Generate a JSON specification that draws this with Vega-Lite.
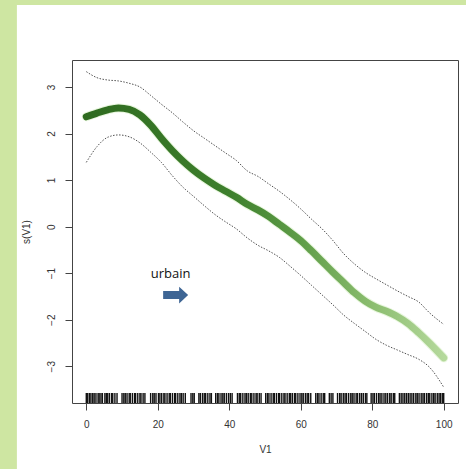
{
  "$schema": "https://vega.github.io/schema/vega-lite/v6.json",
  "width": 386,
  "height": 343,
  "autosize": "none",
  "padding": {"left": 72, "top": 60, "right": 8, "bottom": 66},
  "background": "white",
  "config": {
    "view": {"stroke": "#444", "strokeWidth": 1},
    "axis": {"domain": false, "grid": false, "tickColor": "#444", "tickSize": 7, "labelFont": "Liberation Sans", "labelFontSize": 10, "labelColor": "#333", "titleFont": "Liberation Sans", "titleFontSize": 10, "titleFontWeight": "normal", "titleColor": "#333", "zindex": 1}
  },
  "datasets": {
    "fit": [
      {"V1": 0, "fit": 2.36, "lo": 1.38, "hi": 3.33},
      {"V1": 3, "fit": 2.44, "lo": 1.72, "hi": 3.2},
      {"V1": 6, "fit": 2.51, "lo": 1.92, "hi": 3.15},
      {"V1": 9, "fit": 2.55, "lo": 1.97, "hi": 3.13},
      {"V1": 12, "fit": 2.52, "lo": 1.93, "hi": 3.08},
      {"V1": 15, "fit": 2.4, "lo": 1.8, "hi": 3.0},
      {"V1": 18, "fit": 2.18, "lo": 1.6, "hi": 2.82},
      {"V1": 21, "fit": 1.9, "lo": 1.38, "hi": 2.63},
      {"V1": 24, "fit": 1.64, "lo": 1.1, "hi": 2.45},
      {"V1": 27, "fit": 1.41, "lo": 0.85, "hi": 2.25},
      {"V1": 30, "fit": 1.21, "lo": 0.65, "hi": 2.06},
      {"V1": 33, "fit": 1.04, "lo": 0.45, "hi": 1.9},
      {"V1": 36, "fit": 0.89, "lo": 0.26, "hi": 1.74},
      {"V1": 39, "fit": 0.76, "lo": 0.1, "hi": 1.58},
      {"V1": 42, "fit": 0.63, "lo": -0.05, "hi": 1.42},
      {"V1": 45, "fit": 0.48, "lo": -0.24, "hi": 1.2},
      {"V1": 48, "fit": 0.36, "lo": -0.4, "hi": 1.08},
      {"V1": 51, "fit": 0.22, "lo": -0.52, "hi": 0.92},
      {"V1": 54, "fit": 0.05, "lo": -0.66, "hi": 0.76},
      {"V1": 57, "fit": -0.12, "lo": -0.85, "hi": 0.58},
      {"V1": 60, "fit": -0.3, "lo": -1.05, "hi": 0.38},
      {"V1": 63, "fit": -0.52, "lo": -1.26, "hi": 0.16},
      {"V1": 66, "fit": -0.75, "lo": -1.47, "hi": -0.05},
      {"V1": 69, "fit": -0.98, "lo": -1.68, "hi": -0.3},
      {"V1": 72, "fit": -1.2, "lo": -1.9, "hi": -0.58},
      {"V1": 75, "fit": -1.42, "lo": -2.08, "hi": -0.8},
      {"V1": 78, "fit": -1.6, "lo": -2.25, "hi": -0.98},
      {"V1": 81, "fit": -1.73, "lo": -2.42, "hi": -1.12},
      {"V1": 84, "fit": -1.82, "lo": -2.55, "hi": -1.25},
      {"V1": 87, "fit": -1.93, "lo": -2.65, "hi": -1.38},
      {"V1": 90, "fit": -2.08, "lo": -2.75, "hi": -1.5},
      {"V1": 93, "fit": -2.28, "lo": -2.85, "hi": -1.62},
      {"V1": 96, "fit": -2.5, "lo": -3.02, "hi": -1.85},
      {"V1": 100, "fit": -2.82, "lo": -3.45, "hi": -2.1}
    ],
    "rug": [
      {"V1": 0}, {"V1": 0.4}, {"V1": 0.9}, {"V1": 1.3}, {"V1": 1.8}, {"V1": 2.2}, {"V1": 2.7}, {"V1": 3.3}, {"V1": 3.6}, {"V1": 4.1}, {"V1": 4.5}, {"V1": 5.2}, {"V1": 5.6}, {"V1": 6.0}, {"V1": 6.5}, {"V1": 7.1}, {"V1": 7.4}, {"V1": 8.0}, {"V1": 8.6},
      {"V1": 10.0}, {"V1": 10.5}, {"V1": 10.9}, {"V1": 11.4}, {"V1": 12.0}, {"V1": 12.3}, {"V1": 12.9}, {"V1": 13.5}, {"V1": 13.8}, {"V1": 14.4}, {"V1": 15.0}, {"V1": 15.3}, {"V1": 15.9}, {"V1": 16.4},
      {"V1": 18.0}, {"V1": 18.6}, {"V1": 19.0}, {"V1": 19.5}, {"V1": 20.2}, {"V1": 20.6}, {"V1": 21.1}, {"V1": 21.7}, {"V1": 22.0}, {"V1": 22.6}, {"V1": 23.2}, {"V1": 23.5}, {"V1": 24.1}, {"V1": 24.7}, {"V1": 25.0}, {"V1": 25.6}, {"V1": 26.2}, {"V1": 26.6}, {"V1": 27.1}, {"V1": 27.7},
      {"V1": 29.3}, {"V1": 29.8}, {"V1": 30.2}, {"V1": 31.5}, {"V1": 31.9}, {"V1": 32.5}, {"V1": 33.0}, {"V1": 33.4}, {"V1": 34.0}, {"V1": 34.6}, {"V1": 35.0},
      {"V1": 36.2}, {"V1": 36.7}, {"V1": 37.1}, {"V1": 37.7}, {"V1": 38.2}, {"V1": 38.6}, {"V1": 39.2}, {"V1": 39.8}, {"V1": 40.3}, {"V1": 40.8},
      {"V1": 42.3}, {"V1": 42.8}, {"V1": 43.2}, {"V1": 43.8}, {"V1": 44.4}, {"V1": 44.8}, {"V1": 45.3}, {"V1": 45.9}, {"V1": 46.3}, {"V1": 46.9}, {"V1": 47.5}, {"V1": 47.8}, {"V1": 48.4}, {"V1": 48.9},
      {"V1": 50.2}, {"V1": 50.7}, {"V1": 51.1}, {"V1": 51.7}, {"V1": 52.3}, {"V1": 52.6}, {"V1": 53.2}, {"V1": 53.8}, {"V1": 54.1}, {"V1": 54.7}, {"V1": 55.3}, {"V1": 55.6}, {"V1": 56.2}, {"V1": 56.8}, {"V1": 57.2}, {"V1": 57.7}, {"V1": 58.3}, {"V1": 58.6}, {"V1": 59.2}, {"V1": 59.8}, {"V1": 60.3}, {"V1": 60.7}, {"V1": 61.3}, {"V1": 61.8}, {"V1": 62.2}, {"V1": 62.8},
      {"V1": 64.2}, {"V1": 64.7}, {"V1": 65.1}, {"V1": 65.7}, {"V1": 66.3}, {"V1": 66.7}, {"V1": 68.0}, {"V1": 68.5}, {"V1": 69.0},
      {"V1": 70.3}, {"V1": 70.9}, {"V1": 71.3}, {"V1": 71.9}, {"V1": 72.4}, {"V1": 72.8}, {"V1": 73.4}, {"V1": 74.0}, {"V1": 74.4}, {"V1": 74.9}, {"V1": 75.5}, {"V1": 75.9}, {"V1": 76.5}, {"V1": 77.0}, {"V1": 77.5}, {"V1": 78.1}, {"V1": 78.5},
      {"V1": 79.7}, {"V1": 80.2}, {"V1": 80.6}, {"V1": 81.2}, {"V1": 81.8}, {"V1": 82.2}, {"V1": 82.7}, {"V1": 83.3}, {"V1": 83.8}, {"V1": 84.3}, {"V1": 84.9}, {"V1": 85.3}, {"V1": 85.9}, {"V1": 86.3},
      {"V1": 87.6}, {"V1": 88.1}, {"V1": 88.6}, {"V1": 89.1}, {"V1": 89.6}, {"V1": 90.1}, {"V1": 90.6}, {"V1": 91.1}, {"V1": 91.6}, {"V1": 92.2}, {"V1": 92.6}, {"V1": 93.1}, {"V1": 93.7}, {"V1": 94.2}, {"V1": 94.6}, {"V1": 95.2}, {"V1": 95.7}, {"V1": 96.1}, {"V1": 96.7}, {"V1": 97.2}, {"V1": 97.6}, {"V1": 98.2}, {"V1": 98.7}, {"V1": 99.1}, {"V1": 99.6}, {"V1": 100}
    ]
  },
  "layer": [
    {
      "data": {"values": [{}]},
      "mark": {"type": "rect", "color": "#cee6a2", "clip": false},
      "encoding": {
        "x": {"datum": -60, "type": "quantitative", "scale": {"domain": [-4, 104], "nice": false, "zero": false}, "title": "V1"},
        "x2": {"datum": -19.42},
        "y": {"datum": -7, "type": "quantitative", "scale": {"domain": [-3.79, 3.58], "nice": false, "zero": false}, "title": "s(V1)"},
        "y2": {"datum": 6}
      }
    },
    {
      "data": {"values": [{}]},
      "mark": {"type": "rect", "color": "#cee6a2", "clip": false},
      "encoding": {
        "x": {"datum": -60, "type": "quantitative", "scale": {"domain": [-4, 104], "nice": false, "zero": false}, "title": "V1"},
        "x2": {"datum": 115},
        "y": {"datum": 4.76, "type": "quantitative", "scale": {"domain": [-3.79, 3.58], "nice": false, "zero": false}, "title": "s(V1)"},
        "y2": {"datum": 6}
      }
    },
    {
      "data": {"name": "fit"},
      "mark": {"type": "line", "color": "#333", "strokeWidth": 1, "strokeDash": [1.5, 1.5], "opacity": 0.85, "interpolate": "monotone"},
      "encoding": {
        "x": {"field": "V1", "type": "quantitative", "scale": {"domain": [-4, 104], "nice": false, "zero": false}, "title": "V1", "axis": {"values": [0, 20, 40, 60, 80, 100], "labelPadding": 9, "titlePadding": 15}},
        "y": {"field": "lo", "type": "quantitative", "scale": {"domain": [-3.79, 3.58], "nice": false, "zero": false}, "title": "s(V1)", "axis": {"values": [-3, -2, -1, 0, 1, 2, 3], "labelAngle": -90, "labelAlign": "center", "labelBaseline": "bottom", "labelPadding": 9, "titlePadding": 15}}
      }
    },
    {
      "data": {"name": "fit"},
      "mark": {"type": "line", "color": "#333", "strokeWidth": 1, "strokeDash": [1.5, 1.5], "opacity": 0.85, "interpolate": "monotone"},
      "encoding": {
        "x": {"field": "V1", "type": "quantitative", "scale": {"domain": [-4, 104], "nice": false, "zero": false}, "title": "V1"},
        "y": {"field": "hi", "type": "quantitative", "scale": {"domain": [-3.79, 3.58], "nice": false, "zero": false}, "title": "s(V1)"}
      }
    },
    {
      "data": {"name": "fit"},
      "mark": {"type": "line", "color": "#b9e69c", "strokeWidth": 9, "opacity": 0.35, "interpolate": "monotone", "strokeCap": "round"},
      "encoding": {
        "x": {"field": "V1", "type": "quantitative", "scale": {"domain": [-4, 104], "nice": false, "zero": false}, "title": "V1"},
        "y": {"field": "fit", "type": "quantitative", "scale": {"domain": [-3.79, 3.58], "nice": false, "zero": false}, "title": "s(V1)"}
      }
    },
    {
      "data": {"name": "fit"},
      "mark": {"type": "line", "strokeWidth": 7, "interpolate": "monotone", "strokeCap": "round",
        "color": {"gradient": "linear", "x1": 0, "y1": 0, "x2": 1, "y2": 0, "stops": [
          {"offset": 0, "color": "#2f6b20"},
          {"offset": 0.4, "color": "#3d7f2c"},
          {"offset": 0.6, "color": "#5f9d48"},
          {"offset": 0.8, "color": "#8bbd6f"},
          {"offset": 1, "color": "#b5d99c"}
        ]}},
      "encoding": {
        "x": {"field": "V1", "type": "quantitative", "scale": {"domain": [-4, 104], "nice": false, "zero": false}, "title": "V1"},
        "y": {"field": "fit", "type": "quantitative", "scale": {"domain": [-3.79, 3.58], "nice": false, "zero": false}, "title": "s(V1)"}
      }
    },
    {
      "data": {"name": "rug"},
      "mark": {"type": "rule", "color": "#111", "strokeWidth": 1.4},
      "encoding": {
        "x": {"field": "V1", "type": "quantitative", "scale": {"domain": [-4, 104], "nice": false, "zero": false}, "title": "V1"},
        "y": {"datum": -3.79, "type": "quantitative", "scale": {"domain": [-3.79, 3.58], "nice": false, "zero": false}, "title": "s(V1)"},
        "y2": {"datum": -3.575}
      }
    },
    {
      "data": {"values": [{"label": "urbain"}]},
      "mark": {"type": "text", "font": "Open Sans", "fontSize": 13, "color": "#111", "align": "center", "baseline": "alphabetic"},
      "encoding": {
        "text": {"field": "label"},
        "x": {"datum": 23.6, "type": "quantitative", "scale": {"domain": [-4, 104], "nice": false, "zero": false}, "title": "V1"},
        "y": {"datum": -1.1, "type": "quantitative", "scale": {"domain": [-3.79, 3.58], "nice": false, "zero": false}, "title": "s(V1)"}
      }
    },
    {
      "data": {"values": [{"label": "arrow"}]},
      "mark": {"type": "point", "filled": true, "opacity": 1, "color": "#3e6594", "size": 625,
        "shape": "M-1,-0.32L0.28,-0.32L0.28,-0.67L1,0L0.28,0.67L0.28,0.32L-1,0.32Z"},
      "encoding": {
        "x": {"datum": 25.0, "type": "quantitative", "scale": {"domain": [-4, 104], "nice": false, "zero": false}, "title": "V1"},
        "y": {"datum": -1.47, "type": "quantitative", "scale": {"domain": [-3.79, 3.58], "nice": false, "zero": false}, "title": "s(V1)"}
      }
    }
  ]
}
